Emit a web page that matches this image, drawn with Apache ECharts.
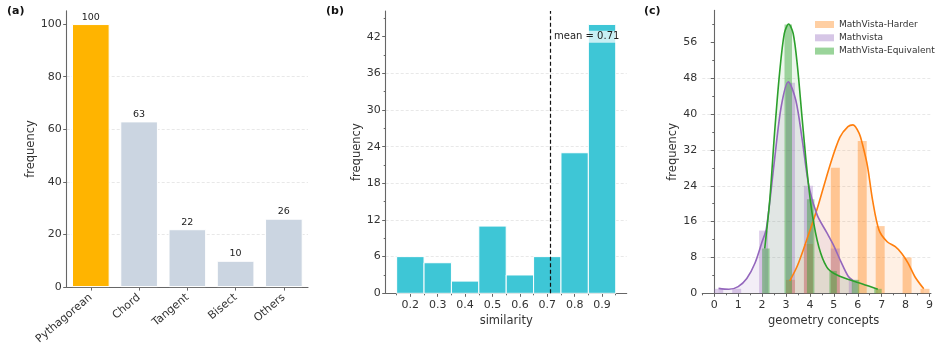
<!DOCTYPE html>
<html>
<head>
<meta charset="utf-8">
<script src="https://cdn.jsdelivr.net/npm/echarts@6/dist/echarts.min.js"></script>
<style>
html, body { margin: 0; padding: 0; background: #fff; }
#main { width: 936px; height: 347px; }
</style>
</head>
<body>
<div id="main"></div>
<script>
// (a) theorem categories
const categories = ['Pythagorean', 'Chord', 'Tangent', 'Bisect', 'Others'];
const categoryCounts = [100, 63, 22, 10, 26];

// (b) similarity histogram
const simBinCenters = [0.2, 0.3, 0.4, 0.5, 0.6, 0.7, 0.8, 0.9];
const simCounts = [6, 5, 2, 11, 3, 6, 23, 44];
const simBinWidth = 0.1;
const simMean = 0.71;
const simTicks = [0.2, 0.3, 0.4, 0.5, 0.6, 0.7, 0.8, 0.9];

// (c) number of geometry concepts per problem
const conceptValues = [0, 1, 2, 3, 4, 5, 6, 7, 8, 9];
const harderCounts = [0, 0, 0, 3, 11, 28, 34, 15, 8, 1];
const mathvistaCounts = [1, 1, 14, 47, 24, 10, 3, 0, 0, 0];
const equivalentCounts = [0, 0, 10, 60, 21, 5, 3, 1, 0, 0];
const histBins = 16;
const conceptTicks = [0, 1, 2, 3, 4, 5, 6, 7, 8, 9];

// smoothed curves
const harderCurve = [[3.16, 2.8], [3.48, 6.2], [3.89, 12.3], [4.3, 18.8], [4.84, 28.6], [5.25, 34.8],
  [5.59, 37.2], [5.8, 37.6], [6.05, 35.8], [6.2, 33.2], [6.41, 28.3], [6.62, 20.8], [6.89, 14.1],
  [7.23, 11.5], [7.57, 10.4], [7.84, 8.9], [8.11, 6.7], [8.39, 3.7], [8.76, 1.0]];
const mathvistaCurve = [[0.18, 1.1], [0.61, 0.9], [1.0, 1.5], [1.36, 3.3], [1.7, 6.7], [2.0, 11.5],
  [2.18, 14.5], [2.52, 29.8], [2.8, 41.7], [3.1, 47.2], [3.41, 43.1], [3.68, 34.2], [3.96, 23.8],
  [4.3, 17.5], [4.7, 13.6], [5.0, 10.6], [5.3, 7.0], [5.6, 3.8], [5.8, 2.9]];
const equivalentCurve = [[2.11, 10.0], [2.32, 20.8], [2.52, 35.7], [2.73, 49.1], [2.93, 58], [3.11, 60.1],
  [3.3, 58], [3.48, 50.6], [3.68, 38.7], [3.89, 26.8], [4.09, 17.9], [4.37, 10.4], [4.7, 5.9],
  [5.05, 4.3], [5.66, 3.0], [6.2, 2.1], [6.84, 0.9]];

const FONT = 'DejaVu Sans';
const axisColor = '#666';
const textColor = '#333';

// histogram bins like matplotlib: histBins equal bins over the data range
function binRects(counts) {
  const used = conceptValues.filter((v, i) => counts[i] > 0);
  const lo = Math.min(...used), hi = Math.max(...used);
  const w = (hi - lo) / histBins;
  const out = [];
  conceptValues.forEach((v, i) => {
    if (!counts[i]) return;
    const k = Math.min(Math.floor((v - lo) / w + 1e-9), histBins - 1);
    out.push([lo + k * w, lo + (k + 1) * w, counts[i]]);
  });
  return out;
}

function rectRenderer(fill, stroke, lw) {
  return function (params, api) {
    const p0 = api.coord([api.value(0), api.value(2)]);
    const p1 = api.coord([api.value(1), 0]);
    return {
      type: 'rect',
      shape: { x: p0[0], y: p0[1], width: p1[0] - p0[0], height: p1[1] - p0[1] },
      style: { fill: fill, stroke: stroke || null, lineWidth: lw || 0 }
    };
  };
}

const tickLabel = { color: textColor, fontSize: 11, fontFamily: FONT };
const nameStyle = { color: textColor, fontSize: 11.5, fontFamily: FONT };
const axisLine = { show: true, lineStyle: { color: axisColor, width: 1.1 } };
const gridLine = { show: true, showMaxLine: false, showMinLine: false, lineStyle: { color: '#e2e2e2', type: [3, 2], width: 0.8 } };

function valueY(gridIndex, max, interval, gap) {
  const ticks = [];
  for (let v = 0; v <= max; v += interval) ticks.push(v);
  return {
    type: 'value', gridIndex: gridIndex, min: 0, max: max, interval: interval,
    name: 'frequency', nameLocation: 'middle', nameGap: gap, nameTextStyle: nameStyle,
    axisLine: axisLine,
    axisTick: { show: true, length: 3.5, lineStyle: { color: axisColor }, customValues: ticks },
    axisLabel: Object.assign({ margin: 5, customValues: ticks }, tickLabel),
    splitLine: gridLine
  };
}

const series = [];

// (a)
series.push({
  type: 'bar', xAxisIndex: 0, yAxisIndex: 0,
  barCategoryGap: '22%',
  data: categoryCounts.map((v, i) => ({
    value: v,
    itemStyle: { color: i === 0 ? '#ffb400' : '#cbd5e1', borderColor: '#fff', borderWidth: 1 }
  })),
  label: { show: true, position: 'top', distance: 2, color: '#222', fontSize: 9.5, fontFamily: FONT }
});

// (b)
series.push({
  type: 'custom', xAxisIndex: 1, yAxisIndex: 1,
  renderItem: rectRenderer('#3ec6d6', '#ffffff', 1),
  data: simBinCenters.map((c, i) => [c - simBinWidth / 2, c + simBinWidth / 2, simCounts[i]]),
  markLine: {
    silent: true, symbol: 'none',
    lineStyle: { color: '#111', type: [4, 2.5], width: 1.2 },
    label: { show: false },
    data: [{ xAxis: simMean }]
  },
  markPoint: {
    silent: true, symbolSize: 0,
    data: [{
      coord: [simMean, 42],
      label: {
        show: true, position: 'right', distance: 3,
        formatter: 'mean = ' + simMean,
        color: '#222', fontSize: 10, fontFamily: FONT,
        backgroundColor: 'rgba(255,255,255,0.72)', padding: [1, 1]
      }
    }]
  },
  z: 3
});

// (c)
const groups = [
  { name: 'MathVista-Harder', counts: harderCounts, curve: harderCurve, rgb: '255,127,14', line: '#ff7f0e', barA: 0.38, fillA: 0.16, legend: '#ffcfa3' },
  { name: 'Mathvista', counts: mathvistaCounts, curve: mathvistaCurve, rgb: '148,103,189', line: '#9467bd', barA: 0.32, fillA: 0.16, legend: '#d6c6e6' },
  { name: 'MathVista-Equivalent', counts: equivalentCounts, curve: equivalentCurve, rgb: '44,160,44', line: '#2ca02c', barA: 0.42, fillA: 0.13, legend: '#9ad49a' }
];
groups.forEach(g => {
  series.push({
    name: g.name, type: 'line', xAxisIndex: 3, yAxisIndex: 2, smooth: 0.3,
    showSymbol: false, silent: true, data: g.curve,
    lineStyle: { width: 0, opacity: 0 },
    areaStyle: { color: 'rgba(' + g.rgb + ',' + g.fillA + ')' },
    z: 1
  });
});
groups.forEach(g => {
  series.push({
    name: g.name, type: 'custom', xAxisIndex: 3, yAxisIndex: 2,
    renderItem: rectRenderer('rgba(' + g.rgb + ',' + g.barA + ')'),
    data: binRects(g.counts),
    z: 2
  });
});
groups.forEach(g => {
  series.push({
    name: g.name, type: 'line', xAxisIndex: 3, yAxisIndex: 2, smooth: 0.3,
    showSymbol: false, silent: true, data: g.curve,
    lineStyle: { width: 1.6, color: g.line },
    itemStyle: { color: g.line },
    z: 3
  });
});

const titleStyle = { fontSize: 11, fontWeight: 'bold', color: '#111', fontFamily: FONT };
const chart = echarts.init(document.getElementById('main'), null, { renderer: 'canvas' });
chart.setOption({
  animation: false,
  backgroundColor: '#fff',
  textStyle: { fontFamily: FONT },
  title: [
    { text: '(a)', left: 7, top: 6, padding: 0, textStyle: titleStyle },
    { text: '(b)', left: 326, top: 6, padding: 0, textStyle: titleStyle },
    { text: '(c)', left: 644, top: 6, padding: 0, textStyle: titleStyle }
  ],
  legend: {
    orient: 'vertical', left: 815, top: 19, padding: 0,
    itemWidth: 19, itemHeight: 7, itemGap: 2.3, icon: 'rect',
    selectedMode: false,
    textStyle: { color: textColor, fontSize: 9, lineHeight: 11, fontFamily: FONT },
    data: groups.map(g => ({ name: g.name, itemStyle: { color: g.legend, opacity: 1 } }))
  },
  grid: [
    { left: 66.7, top: 10.9, width: 241.3, height: 282.4 },
    { left: 385.7, top: 11, width: 241, height: 282.3 },
    { left: 702.3, top: 10.4, width: 233.7, height: 282.9 }
  ],
  xAxis: [
    {
      type: 'category', gridIndex: 0, data: categories,
      axisLine: axisLine,
      axisTick: { show: true, alignWithLabel: true, length: 3.5, lineStyle: { color: axisColor } },
      axisLabel: Object.assign({ rotate: 40, margin: 9, interval: 0 }, tickLabel),
      splitLine: { show: false }
    },
    {
      type: 'value', gridIndex: 1, min: 0.11, max: 0.99, position: 'bottom',
      name: 'similarity', nameLocation: 'middle', nameGap: 21, nameTextStyle: nameStyle,
      axisLine: axisLine,
      axisTick: { show: true, length: 3.5, lineStyle: { color: axisColor }, customValues: simTicks },
      axisLabel: Object.assign({ margin: 6, customValues: simTicks, formatter: v => v.toFixed(1) }, tickLabel),
      splitLine: { show: false }
    },
    {
      type: 'value', gridIndex: 1, min: 0.11, max: 0.99, position: 'bottom', offset: 0,
      axisLine: { show: false },
      axisTick: { show: true, length: 2, lineStyle: { color: axisColor }, customValues: simTicks.map(t => t - 0.05).concat([0.95]) },
      axisLabel: { show: false }, splitLine: { show: false }
    },
    {
      type: 'value', gridIndex: 2, min: -0.5, max: 9.06, position: 'bottom',
      name: 'geometry concepts', nameLocation: 'middle', nameGap: 20,
      nameTextStyle: Object.assign({ padding: [0, 0, 0, 14] }, nameStyle),
      axisLine: axisLine,
      axisTick: { show: true, length: 3.5, lineStyle: { color: axisColor }, customValues: conceptTicks },
      axisLabel: Object.assign({ margin: 6, customValues: conceptTicks }, tickLabel),
      splitLine: { show: false }
    },
    {
      type: 'value', gridIndex: 2, min: -0.5, max: 9.06, position: 'bottom', offset: 0,
      axisLine: { show: false },
      axisTick: { show: true, length: 2, lineStyle: { color: axisColor }, customValues: [-0.5].concat(conceptTicks.slice(0, -1).map(t => t + 0.5)) },
      axisLabel: { show: false }, splitLine: { show: false }
    }
  ],
  yAxis: [
    valueY(0, 105, 20, 28),
    Object.assign(valueY(1, 46.2, 6, 23), { minorTick: { show: true, splitNumber: 2, length: 2, lineStyle: { color: axisColor } } }),
    Object.assign(valueY(2, 63.15, 8, 22), { minorTick: { show: true, splitNumber: 2, length: 2, lineStyle: { color: axisColor } } })
  ],
  series: series
});
</script>
</body>
</html>
